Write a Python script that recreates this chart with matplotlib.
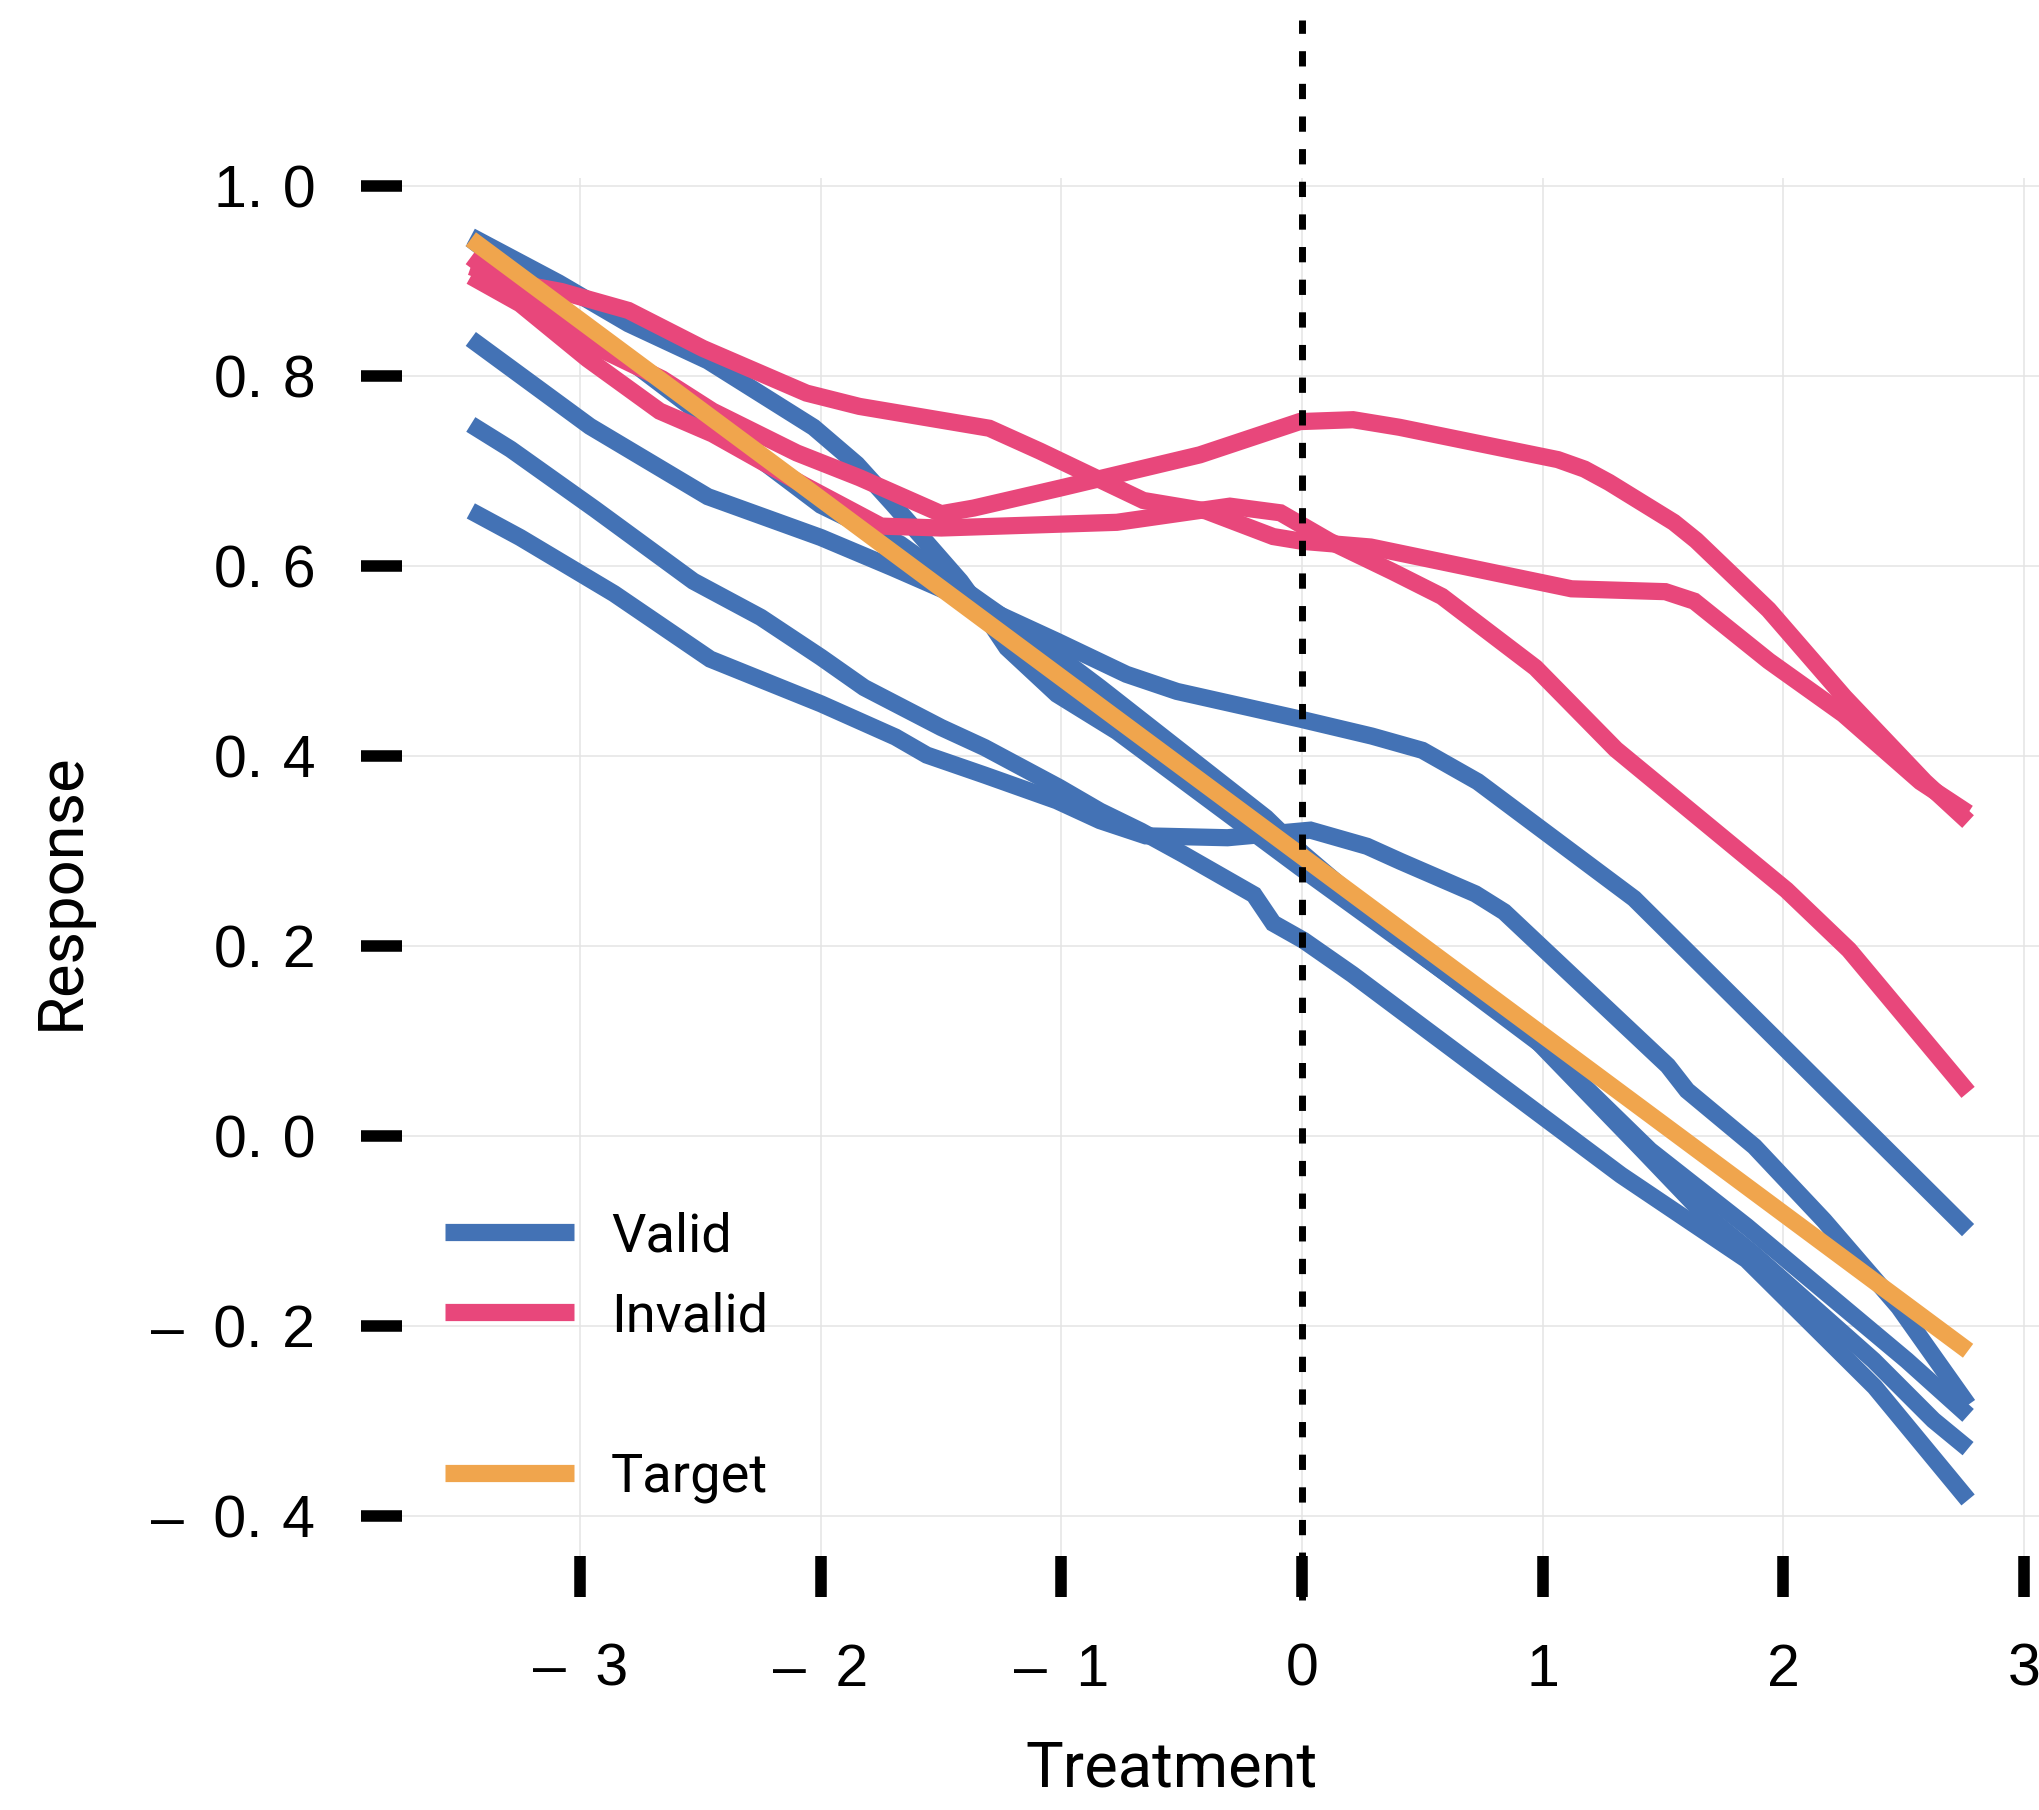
import matplotlib
matplotlib.use("Agg")
import matplotlib.pyplot as plt
from matplotlib.lines import Line2D

plt.rcParams['font.family'] = ['Roboto', 'DejaVu Sans']

# ---------------- data ----------------
valid_1_x = [-3.455, -3.09, -2.80, -2.47, -2.03, -1.85, -1.70, -1.42, -1.32, -1.227, -1.019, -0.77, -0.01, 0.95, 1.416, 1.654, 1.876, 2.375, 2.624, 2.768]
valid_1_y = [0.947, 0.898, 0.855, 0.816, 0.746, 0.707, 0.665, 0.584, 0.549, 0.514, 0.465, 0.426, 0.283, 0.107, -0.015, -0.078, -0.124, -0.236, -0.299, -0.329]

valid_2_x = [-3.455, -2.95, -2.45, -2.0, -1.67, -1.32, -1.06, -0.84, -0.15, 0.0, 0.5, 1.0, 1.446, 1.848, 2.513, 2.768]
valid_2_y = [0.944, 0.846, 0.750, 0.664, 0.623, 0.560, 0.514, 0.472, 0.335, 0.298, 0.190, 0.095, -0.015, -0.095, -0.236, -0.294]

valid_3_x = [-3.455, -2.96, -2.47, -2.0, -1.70, -1.42, -1.32, -1.02, -0.73, -0.52, -0.01, 0.29, 0.50, 0.73, 1.38, 2.768]
valid_3_y = [0.839, 0.747, 0.673, 0.630, 0.598, 0.567, 0.556, 0.521, 0.486, 0.468, 0.439, 0.421, 0.406, 0.373, 0.250, -0.099]

valid_4_x = [-3.455, -3.29, -2.94, -2.53, -2.25, -2.0, -1.82, -1.50, -1.32, -1.01, -0.84, -0.67, -0.49, -0.20, -0.12, 0.006, 0.21, 1.325, 1.847, 2.38, 2.768]
valid_4_y = [0.749, 0.723, 0.660, 0.584, 0.546, 0.504, 0.472, 0.430, 0.409, 0.367, 0.342, 0.321, 0.296, 0.254, 0.224, 0.206, 0.170, -0.041, -0.130, -0.264, -0.383]

valid_5_x = [-3.455, -3.25, -2.86, -2.46, -2.0, -1.69, -1.56, -1.32, -1.02, -0.84, -0.65, -0.31, 0.035, 0.27, 0.41, 0.72, 0.84, 1.52, 1.60, 1.88, 2.17, 2.48, 2.768]
valid_5_y = [0.658, 0.630, 0.571, 0.502, 0.455, 0.420, 0.401, 0.380, 0.353, 0.332, 0.316, 0.314, 0.322, 0.305, 0.289, 0.255, 0.236, 0.074, 0.048, -0.011, -0.089, -0.180, -0.283]

invalid_1_x = [-3.455, -3.25, -3.08, -2.80, -2.49, -2.06, -1.84, -1.30, -1.09, -0.66, -0.40, -0.12, 0.0, 0.285, 1.12, 1.51, 1.63, 1.94, 2.25, 2.57, 2.768]
invalid_1_y = [0.915, 0.897, 0.889, 0.869, 0.829, 0.782, 0.768, 0.745, 0.721, 0.669, 0.658, 0.631, 0.626, 0.620, 0.576, 0.573, 0.563, 0.500, 0.444, 0.373, 0.340]

invalid_2_x = [-3.455, -3.20, -2.97, -2.66, -2.45, -2.10, -1.84, -1.50, -1.365, -1.006, -0.425, -0.01, 0.212, 0.405, 1.063, 1.174, 1.276, 1.545, 1.638, 1.939, 2.254, 2.588, 2.768]
invalid_2_y = [0.925, 0.877, 0.835, 0.797, 0.763, 0.719, 0.693, 0.655, 0.661, 0.682, 0.717, 0.752, 0.754, 0.746, 0.712, 0.702, 0.688, 0.646, 0.627, 0.554, 0.462, 0.373, 0.331]

invalid_3_x = [-3.455, -3.25, -2.97, -2.67, -2.45, -2.07, -1.75, -1.50, -0.77, -0.30, -0.09, 0.115, 0.377, 0.581, 0.97, 1.304, 2.013, 2.273, 2.768]
invalid_3_y = [0.905, 0.876, 0.818, 0.763, 0.739, 0.685, 0.642, 0.640, 0.646, 0.663, 0.656, 0.626, 0.594, 0.568, 0.493, 0.407, 0.259, 0.196, 0.046]

target_x = [-3.455, 2.768]
target_y = [0.944, -0.226]

x_ticks = [-3, -2, -1, 0, 1, 2, 3]
x_tick_labels = ["\u2012\u20023", "\u2012\u20022", "\u2012\u20021", "0", "1", "2", "3"]
y_ticks = [1.0, 0.8, 0.6, 0.4, 0.2, 0.0, -0.2, -0.4]
y_tick_labels = ["1.\u20040", "0.\u20048", "0.\u20046", "0.\u20044", "0.\u20042", "0.\u20040",
                 "\u2012\u20020.\u20042", "\u2012\u20020.\u20044"]

legend_labels = ["Valid", "Invalid", " ", "Target"]
treatment_split = 0

# ---------------- style ----------------
BLUE = '#4372B5'
PINK = '#E8477B'
ORANGE = '#F0A54D'
LW = 12.4
FS_TICK = 42.5
FS_LABEL = 45.5
FS_LEG = 39
TICK_FAMILY = ['Liberation Sans', 'DejaVu Sans']

fig = plt.figure(figsize=(20.4, 18.1), dpi=100)
ax = fig.add_axes([402/2040, 1 - 1556/1810, 1 - 402/2040, (1556-178)/1810])

ax.set_xlim(-3.741, 3.067)
ax.set_ylim(-0.442, 1.0084)

common = dict(lw=LW, solid_capstyle='butt', solid_joinstyle='miter')
valid_lines = [(valid_1_x, valid_1_y), (valid_2_x, valid_2_y), (valid_3_x, valid_3_y),
               (valid_4_x, valid_4_y), (valid_5_x, valid_5_y)]
invalid_lines = [(invalid_1_x, invalid_1_y), (invalid_2_x, invalid_2_y), (invalid_3_x, invalid_3_y)]

for xs, ys in valid_lines:
    ax.plot(xs, ys, color=BLUE, zorder=2, **common)
for xs, ys in invalid_lines:
    ax.plot(xs, ys, color=PINK, zorder=3, **common)
ax.plot(target_x, target_y, color=ORANGE, zorder=4, **common)

ylo, yhi = ax.get_ylim()
ax.axvline(treatment_split, ymin=(-0.488 - ylo)/(yhi - ylo), ymax=(1.175 - ylo)/(yhi - ylo),
           color='black', lw=5.0, linestyle=(0, (2.2, 2.5)), clip_on=False, zorder=6)

ax.set_xticks(x_ticks, x_tick_labels)
ax.set_yticks(y_ticks, y_tick_labels)
ax.tick_params(axis='both', direction='out', length=29.5, width=8.3, pad=33,
               labelsize=FS_TICK, color='black', labelcolor='black')
for lab in ax.get_xticklabels() + ax.get_yticklabels():
    lab.set_fontfamily(TICK_FAMILY)
ax.grid(True, color='#e4e4e4', lw=1.1, zorder=0)
ax.set_axisbelow(True)
for s in ax.spines.values():
    s.set_visible(False)

ax.set_xlabel("Treatment", fontsize=FS_LABEL)
ax.set_ylabel("Response", fontsize=FS_LABEL)
ax.xaxis.set_label_coords((1172 - 402)/1638, (1556 - 1769)/1378)
ax.xaxis.label.set_va('center')
ax.yaxis.set_label_coords((62 - 402)/1638, (1556 - 891)/1378)
ax.yaxis.label.set_va('center')
ax.yaxis.label.set_ha('center')

handles = [Line2D([], [], color=BLUE, lw=LW, solid_capstyle='butt'),
           Line2D([], [], color=PINK, lw=LW, solid_capstyle='butt'),
           Line2D([], [], color='none', lw=LW),
           Line2D([], [], color=ORANGE, lw=LW, solid_capstyle='butt')]
leg = ax.legend(handles, legend_labels, loc='upper left',
                bbox_to_anchor=(445/2040, (1810 - 1211)/1810), bbox_transform=fig.transFigure,
                frameon=False, fontsize=FS_LEG, handlelength=2.38, handletextpad=0.68,
                labelspacing=0.54, borderpad=0, borderaxespad=0)

fig.savefig("out.png", dpi=100)
